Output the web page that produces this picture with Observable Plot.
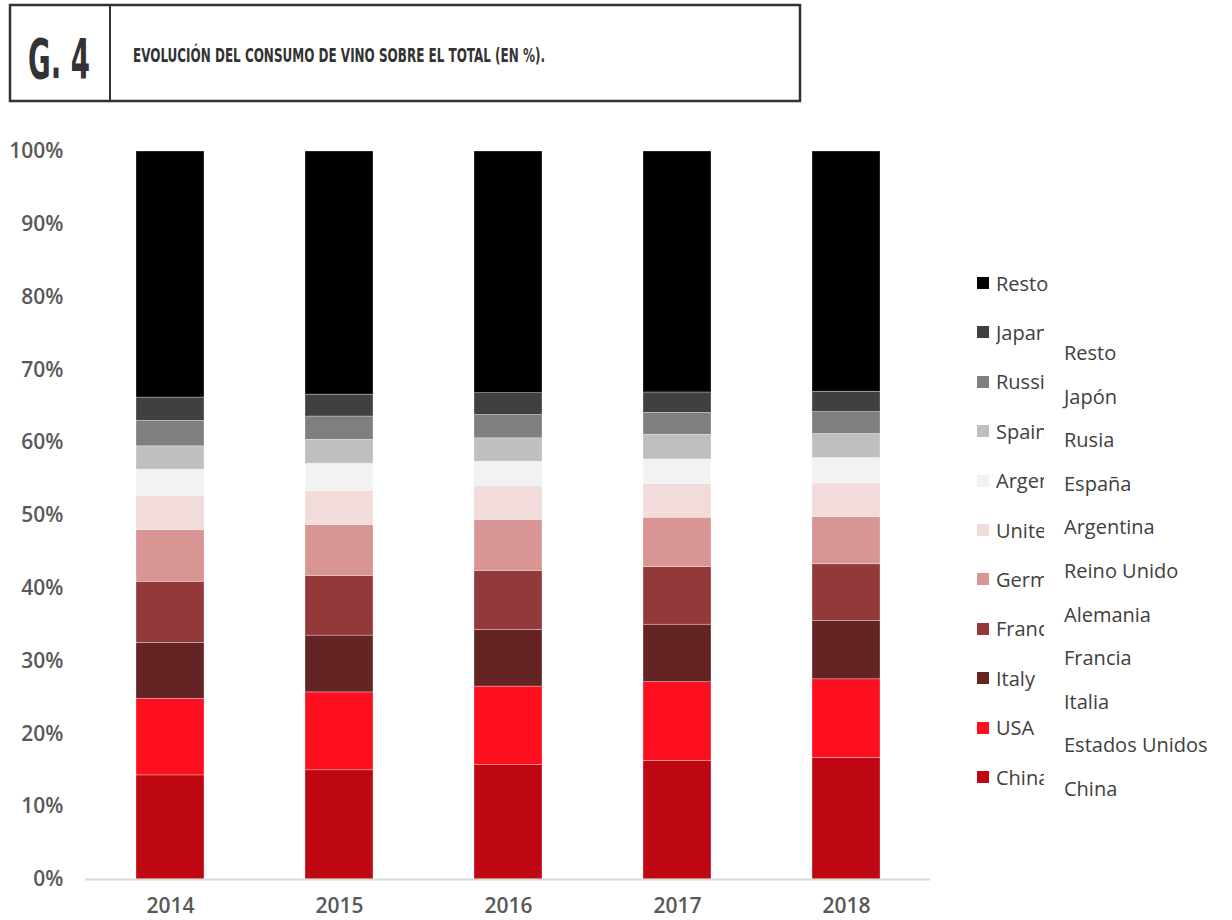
<!DOCTYPE html>
<html>
<head>
<meta charset="utf-8">
<script src="https://cdn.jsdelivr.net/npm/d3@7"></script>
<script src="https://cdn.jsdelivr.net/npm/@observablehq/plot@0.6"></script>
<style>
  html, body { margin: 0; padding: 0; background: #fff; }
  body { width: 1232px; height: 920px; position: relative; overflow: hidden; font-family: "Open Sans", sans-serif; }
  #header { position: absolute; left: 0; top: 0; }
  #chart { position: absolute; left: 0; top: 110px; }
  .lg-en { position: absolute; height: 26px; display: flex; align-items: center; }
  .lg-en .sw { width: 12px; height: 12px; margin-right: 7px; flex: none; }
  .lg-en .tx { font-size: 20px; color: #404040; white-space: nowrap; overflow: hidden; }
  .lg-es { position: absolute; font-size: 20px; color: #404040; white-space: nowrap; line-height: 26px; }
</style>
</head>
<body>
<svg id="header" width="1232" height="110">
  <rect x="10" y="5" width="790" height="96" fill="none" stroke="#333" stroke-width="2.5"/>
  <line x1="110" y1="5" x2="110" y2="101" stroke="#333" stroke-width="2"/>
  <text id="gnum" x="28" y="78" font-family="DejaVu Sans Condensed" font-weight="bold" font-size="55" fill="#333" textLength="62" lengthAdjust="spacingAndGlyphs"></text>
  <text id="gtitle" x="133" y="62" font-family="DejaVu Sans Condensed" font-weight="bold" font-size="20" fill="#333" textLength="412" lengthAdjust="spacingAndGlyphs"></text>
</svg>
<div id="chart"></div>
<script>
const chartNumber = "G. 4";
const chartTitle = "EVOLUCIÓN DEL CONSUMO DE VINO SOBRE EL TOTAL (EN %).";

const years = ["2014", "2015", "2016", "2017", "2018"];
// stacking order, bottom to top
const countries = ["China", "USA", "Italy", "France", "Germany", "United Kingdom", "Argentina", "Spain", "Russia", "Japan", "Resto"];
const countriesEs = ["China", "Estados Unidos", "Italia", "Francia", "Alemania", "Reino Unido", "Argentina", "España", "Rusia", "Japón", "Resto"];
const colors = ["#BE0712", "#FE0F1F", "#642424", "#943939", "#D99594", "#F1DCDB", "#F2F2F2", "#BFBFBF", "#7F7F7F", "#404040", "#000000"];

// share of total consumption (%) per year
const china     = [14.3, 15.0, 15.7, 16.3, 16.7];
const usa       = [10.5, 10.7, 10.8, 10.8, 10.8];
const italy     = [7.7, 7.8, 7.8, 7.9, 8.0];
const france    = [8.4, 8.2, 8.1, 7.9, 7.8];
const germany   = [7.1, 7.0, 7.0, 6.8, 6.5];
const uk        = [4.7, 4.7, 4.6, 4.6, 4.6];
const argentina = [3.6, 3.7, 3.4, 3.4, 3.5];
const spain     = [3.2, 3.3, 3.2, 3.4, 3.3];
const russia    = [3.5, 3.2, 3.2, 3.0, 3.0];
const japan     = [3.2, 3.0, 3.0, 2.8, 2.8];
const resto     = [33.8, 33.4, 33.2, 33.1, 33.0];

const yTicks = [0, 10, 20, 30, 40, 50, 60, 70, 80, 90, 100];

document.getElementById("gnum").textContent = chartNumber;
document.getElementById("gtitle").textContent = chartTitle;

const series = [china, usa, italy, france, germany, uk, argentina, spain, russia, japan, resto];
const rows = [];
countries.forEach((c, i) => {
  years.forEach((y, j) => rows.push({year: y, country: c, value: series[i][j]}));
});

const plot = Plot.plot({
  width: 960,
  height: 810,
  marginLeft: 85,
  marginRight: 30,
  marginTop: 41,
  marginBottom: 41,
  style: {fontFamily: "Open Sans, sans-serif", background: "transparent"},
  x: {domain: years, paddingInner: 0.6, paddingOuter: 0.3, label: null},
  y: {domain: [0, 100], label: null},
  color: {domain: countries, range: colors},
  marks: [
    Plot.barY(rows, Plot.stackY({
      x: "year", y: "value", fill: "country", order: countries,
      stroke: "#fff", strokeWidth: 0.6, strokeOpacity: 0.5
    })),
    Plot.ruleY([0], {stroke: "#D9D9D9", strokeWidth: 2}),
    Plot.axisY({ticks: yTicks, tickSize: 0, tickPadding: 22, tickFormat: d => d + "%", fontSize: 21, fontWeight: 600, fill: "#595959", label: null}),
    Plot.axisX({tickSize: 0, tickPadding: 19, fontSize: 21, fontWeight: 600, fill: "#595959", label: null})
  ]
});
document.getElementById("chart").appendChild(plot);

// Legends: clipped English legend and Spanish labels column (top to bottom = Resto ... China)
const order = countries.map((c, i) => i).reverse();
order.forEach((idx, k) => {
  const en = document.createElement("div");
  en.className = "lg-en";
  en.style.left = "977px";
  en.style.top = (283 + k * 49.4 - 13) + "px";
  const sw = document.createElement("div");
  sw.className = "sw";
  sw.style.background = colors[idx];
  const tx = document.createElement("div");
  tx.className = "tx";
  tx.textContent = countries[idx];
  if (k > 0) tx.style.width = "48px";
  en.appendChild(sw); en.appendChild(tx);
  document.body.appendChild(en);

  const es = document.createElement("div");
  es.className = "lg-es";
  es.style.left = "1064px";
  es.style.top = (353 + k * 43.6 - 13) + "px";
  es.textContent = countriesEs[idx];
  document.body.appendChild(es);
});
</script>
</body>
</html>
